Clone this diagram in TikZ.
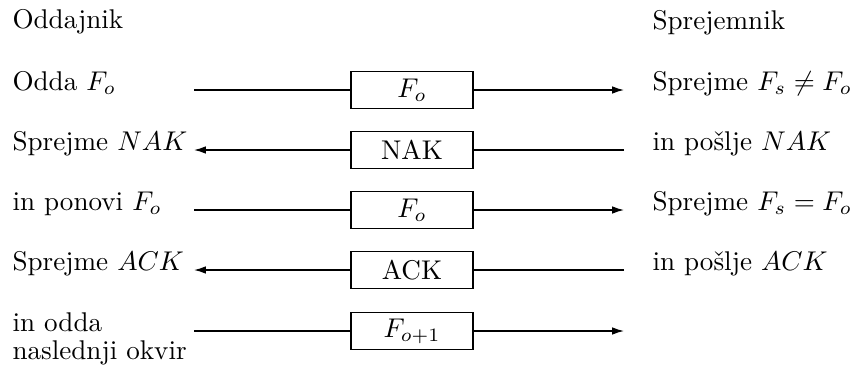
\documentclass[tikz,border=0pt]{standalone}
\usetikzlibrary{arrows.meta}
\begin{document}
\begin{tikzpicture}[x=0.369pt,y=-0.369pt,
  frame/.style={draw,line width=0.5pt,minimum width=45pt,minimum height=13.7pt,inner sep=0pt},
  lbl/.style={anchor=base west,inner sep=0pt},
  wire/.style={line width=0.5pt},
  arr/.style={line width=0.5pt,-{Latex[length=4.4pt,width=2.8pt]}}]
\useasboundingbox (0,0) rectangle (856,371);
% headers
\node[lbl] (tx) at (12,28) {Oddajnik};
\node[lbl] (rx) at (652,29.5) {Sprejemnik};
% rows
\foreach \n/\y in {1/90,2/150,3/210,4/270,5/331}{
  \coordinate (L\n) at (194,\y);
  \coordinate (R\n) at (624,\y);
}
\node[frame] (b1) at (412,90) {$F_o$};
\node[frame] (b2) at (412,150) {NAK};
\node[frame] (b3) at (412,210) {$F_o$};
\node[frame] (b4) at (412,270) {ACK};
\node[frame] (b5) at (412,331) {$F_{o+1}$};
\draw[wire] (L1) -- (b1.west); \draw[arr] (b1.east) -- (R1);
\draw[wire] (R2) -- (b2.east); \draw[arr] (b2.west) -- (L2);
\draw[wire] (L3) -- (b3.west); \draw[arr] (b3.east) -- (R3);
\draw[wire] (R4) -- (b4.east); \draw[arr] (b4.west) -- (L4);
\draw[wire] (L5) -- (b5.west); \draw[arr] (b5.east) -- (R5);
% left texts
\node[lbl] (l1) at (12,90) {Odda $F_o$};
\node[lbl] (l2) at (12,150) {Sprejme $NAK$};
\node[lbl] (l3) at (12,210) {in ponovi $F_o$};
\node[lbl] (l4) at (12,270) {Sprejme $ACK$};
\node[lbl] (l5) at (12,331) {\vtop{\baselineskip=10.6pt\hbox{in odda}\hbox{naslednji okvir}}};
% right texts
\node[lbl] (r1) at (652,90) {Sprejme $F_s \neq F_o$};
\node[lbl] (r2) at (652,150) {in pošlje $NAK$};
\node[lbl] (r3) at (652,210) {Sprejme $F_s = F_o$};
\node[lbl] (r4) at (652,270) {in pošlje $ACK$};
\end{tikzpicture}
\end{document}
